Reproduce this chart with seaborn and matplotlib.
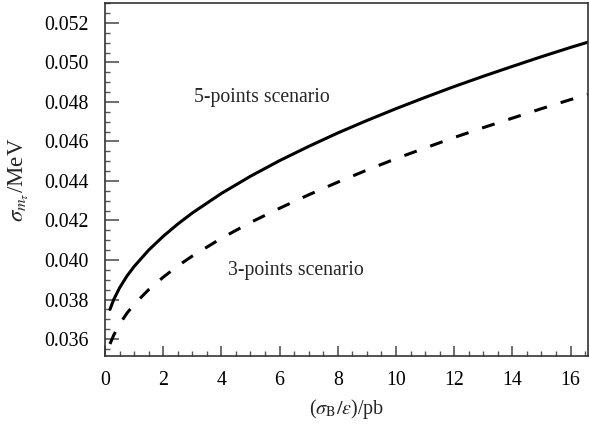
import pandas as pd
import matplotlib
matplotlib.use("Agg")
import matplotlib.pyplot as plt
import seaborn as sns
from matplotlib.ticker import MultipleLocator, FormatStrFormatter

# values
x_five = [0.17, 0.3, 0.5, 0.75, 1, 1.5, 2, 2.5, 3, 4, 5, 6, 7, 8, 9, 10, 11, 12,
          13, 14, 15, 16, 16.65]
y_five = [0.03750, 0.03800, 0.03859, 0.03918, 0.03967, 0.04050, 0.04120, 0.04182,
          0.04238, 0.04337, 0.04424, 0.04503, 0.04575, 0.04643, 0.04706, 0.04766,
          0.04823, 0.04878, 0.04930, 0.04980, 0.05029, 0.05076, 0.05105]

x_three = [0.17, 0.3, 0.5, 0.75, 1, 1.5, 2, 2.5, 3, 4, 5, 6, 7, 8, 9, 10, 11, 12,
           13, 14, 15, 16, 16.6]
y_three = [0.03575, 0.03620, 0.03675, 0.03730, 0.03775, 0.03850, 0.03913, 0.03970,
           0.04020, 0.04110, 0.04190, 0.04262, 0.04330, 0.04394, 0.04455, 0.04513,
           0.04567, 0.04620, 0.04670, 0.04718, 0.04766, 0.04812, 0.04838]

df_five = pd.DataFrame({"x": x_five, "y": y_five})
df_three = pd.DataFrame({"x": x_three, "y": y_three})

sns.set_theme(style="ticks")
plt.rcParams["font.family"] = ["Liberation Serif", "DejaVu Serif"]
plt.rcParams["mathtext.fontset"] = "stix"

fig = plt.figure(figsize=(5.9, 4.26), dpi=100)
ax = fig.add_axes([0.178, 0.1643, 0.8186, 0.8287])

sns.lineplot(data=df_five, x="x", y="y", ax=ax, color="black", lw=2.2,
             estimator=None, sort=False)
sns.lineplot(data=df_three, x="x", y="y", ax=ax, color="black", lw=2.2,
             estimator=None, sort=False, linestyle=(0, (4.3, 4.7)))

ax.set_xlim(0, 16.6)
ax.set_ylim(0.03514, 0.05301)

ax.xaxis.set_major_locator(MultipleLocator(2))
ax.xaxis.set_minor_locator(MultipleLocator(0.5))
ax.yaxis.set_major_locator(MultipleLocator(0.002))
ax.yaxis.set_minor_locator(MultipleLocator(0.0005))
ax.yaxis.set_major_formatter(FormatStrFormatter("%.3f"))

ax.tick_params(which="both", direction="in", colors="#555555", labelcolor="black",
               labelsize=14.3, top=False, right=False)
ax.tick_params(axis="y", which="major", length=10, width=1.2, pad=11.5)
ax.tick_params(axis="y", which="minor", length=3.8, width=1.0)
ax.tick_params(axis="x", which="major", length=7.5, width=1.2, pad=11)
ax.tick_params(axis="x", which="minor", length=3.5, width=1.0)

for s in ax.spines.values():
    s.set_color("#333333")
    s.set_linewidth(1.2)

ax.set_xlabel(r"($\sigma_{\mathrm{B}}/\varepsilon$)/pb", fontsize=14.5, labelpad=5)
ax.set_ylabel(r"$\sigma_{m_\tau}$/MeV", fontsize=16.5, labelpad=10)

ax.text(3.06, 0.04825, "5-points scenario", fontsize=14.2, va="center", ha="left")
ax.text(4.22, 0.03949, "3-points scenario", fontsize=14.2, va="center", ha="left")

fig.savefig("out.png", dpi=100)
